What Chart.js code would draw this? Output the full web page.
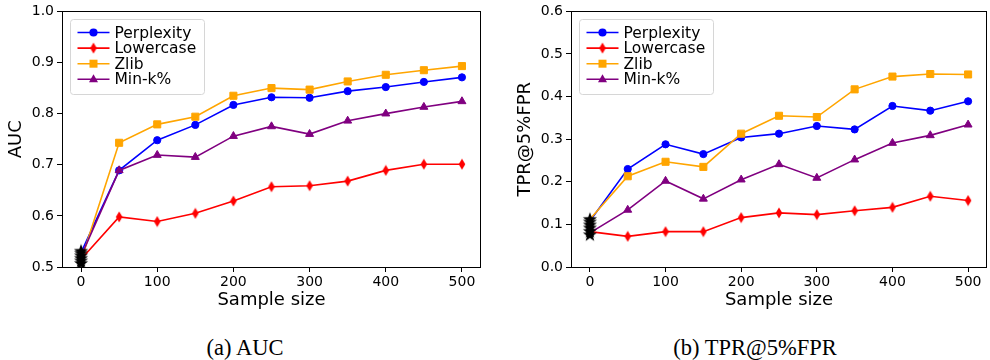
<!DOCTYPE html>
<html>
<head>
<meta charset="utf-8">
<script src="https://cdn.jsdelivr.net/npm/chart.js@4.4.1/dist/chart.umd.min.js"></script>
<style>
  html, body { margin: 0; padding: 0; background: #fff; overflow: hidden; }
  body { width: 990px; height: 360px; position: relative; }
  canvas { position: absolute; top: 0; }
  .cap { position: absolute; top: 335px; font-family: "Liberation Serif", "DejaVu Serif", serif;
         font-size: 22.5px; color: #000; text-align: center; white-space: nowrap; }
</style>
</head>
<body>
<canvas id="auc" width="495" height="320" style="left:0"></canvas>
<canvas id="tpr" width="500" height="320" style="left:495px"></canvas>
<div class="cap" style="left:0;width:490px">(a) AUC</div>
<div class="cap" style="left:510px;width:490px">(b) TPR@5%FPR</div>
<script>
  var sampleSizes = [0, 50, 100, 150, 200, 250, 300, 350, 400, 450, 500];
  var xTicks = [0, 100, 200, 300, 400, 500];
  var seriesNames = ["Perplexity", "Lowercase", "Zlib", "Min-k%"];

  // AUC panel
  var aucPerplexity = [0.528, 0.689, 0.748, 0.778, 0.817, 0.832, 0.831, 0.844, 0.852, 0.862, 0.871];
  var aucLowercase  = [0.515, 0.598, 0.589, 0.605, 0.629, 0.657, 0.659, 0.668, 0.689, 0.701, 0.701];
  var aucZlib       = [0.512, 0.743, 0.779, 0.794, 0.835, 0.850, 0.847, 0.863, 0.876, 0.885, 0.893];
  var aucMinK       = [0.521, 0.689, 0.719, 0.715, 0.756, 0.775, 0.760, 0.786, 0.800, 0.813, 0.824];
  var aucStart      = [0.508, 0.513, 0.518, 0.523, 0.528, 0.532];  // black stars at size 0
  var aucTicks = [0.5, 0.6, 0.7, 0.8, 0.9, 1.0];

  // TPR@5%FPR panel
  var tprPerplexity = [0.108, 0.230, 0.288, 0.265, 0.304, 0.313, 0.331, 0.323, 0.378, 0.367, 0.389];
  var tprLowercase  = [0.083, 0.072, 0.083, 0.083, 0.116, 0.127, 0.123, 0.132, 0.140, 0.166, 0.156];
  var tprZlib       = [0.112, 0.213, 0.247, 0.235, 0.313, 0.355, 0.352, 0.417, 0.447, 0.453, 0.452];
  var tprMinK       = [0.080, 0.134, 0.202, 0.160, 0.205, 0.241, 0.209, 0.252, 0.291, 0.309, 0.334];
  var tprStart      = [0.077, 0.085, 0.093, 0.100, 0.107, 0.113];
  var tprTicks = [0.0, 0.1, 0.2, 0.3, 0.4, 0.5, 0.6];

  var colors = ['#0000ff', '#ff0000', '#ffa500', '#800080'];
  var FONT = 'DejaVu Sans';
  Chart.defaults.color = '#000';
  Chart.defaults.font.family = FONT;

  // matplotlib-ish marker images
  function makeStar() {
    var c = document.createElement('canvas');
    c.width = 16; c.height = 16;
    var g = c.getContext('2d');
    g.fillStyle = '#000';
    g.beginPath();
    for (var i = 0; i < 10; i++) {
      var r = i % 2 ? 3.0 : 7.4;
      var a = -Math.PI / 2 + i * Math.PI / 5;
      var px = 8 + r * Math.cos(a), py = 8.7 + r * Math.sin(a);
      if (i === 0) g.moveTo(px, py); else g.lineTo(px, py);
    }
    g.closePath();
    g.fill();
    return c;
  }
  function makeThinDiamond(color) {
    var c = document.createElement('canvas');
    c.width = 8; c.height = 12;
    var g = c.getContext('2d');
    g.fillStyle = color;
    g.beginPath();
    g.moveTo(4, 0.5); g.lineTo(7.3, 6); g.lineTo(4, 11.5); g.lineTo(0.7, 6);
    g.closePath();
    g.fill();
    return c;
  }
  var starImg = makeStar();
  var diamondImg = makeThinDiamond(colors[1]);
  var markers = [
    {style: 'circle', radius: 3.6},
    {style: diamondImg, radius: 5},
    {style: 'rect', radius: 5},
    {style: 'triangle', radius: 4.6}
  ];

  function xy(vals) {
    return vals.map(function (v, i) { return {x: sampleSizes[i], y: v}; });
  }

  function buildDatasets(seriesList, startVals) {
    var ds = seriesList.map(function (vals, k) {
      return {
        label: seriesNames[k],
        data: xy(vals),
        borderColor: colors[k],
        backgroundColor: colors[k],
        borderWidth: 1.6,
        pointStyle: markers[k].style,
        pointRadius: function (ctx) { return ctx.dataIndex === 0 ? 0 : markers[k].radius; },
        pointBorderWidth: 1,
        pointBorderColor: colors[k],
        pointBackgroundColor: colors[k],
        order: 4 - k,
        tension: 0
      };
    });
    // black stars at sample size 0
    ds.push({
      label: 'start',
      data: startVals.map(function (v) { return {x: sampleSizes[0], y: v}; }),
      showLine: false,
      pointStyle: starImg,
      pointRadius: 7,
      order: 0
    });
    return ds;
  }

  var frameAndLegend = {
    id: 'frameAndLegend',
    afterDatasetsDraw: function (chart) {
      var ctx = chart.ctx, a = chart.chartArea;
      ctx.save();
      ctx.strokeStyle = '#000';
      ctx.lineWidth = 1;
      ctx.strokeRect(Math.round(a.left) + 0.5, Math.round(a.top) + 0.5,
        Math.round(a.right - a.left) - 1, Math.round(a.bottom - a.top));

      // legend box
      var bx = Math.round(a.left) + 8.5, by = Math.round(a.top) + 8.5, bw = 134, bh = 75, r = 3;
      ctx.beginPath();
      ctx.moveTo(bx + r, by);
      ctx.arcTo(bx + bw, by, bx + bw, by + bh, r);
      ctx.arcTo(bx + bw, by + bh, bx, by + bh, r);
      ctx.arcTo(bx, by + bh, bx, by, r);
      ctx.arcTo(bx, by, bx + bw, by, r);
      ctx.closePath();
      ctx.fillStyle = 'rgba(255,255,255,0.8)';
      ctx.fill();
      ctx.strokeStyle = '#d6d6d6';
      ctx.stroke();

      ctx.font = '15.5px "' + FONT + '"';
      ctx.textBaseline = 'middle';
      ctx.textAlign = 'left';
      for (var k = 0; k < 4; k++) {
        var y = by + 13 + k * 15.6;
        var x0 = bx + 7, x1 = bx + 39, mx = (x0 + x1) / 2;
        ctx.strokeStyle = colors[k];
        ctx.lineWidth = 1.6;
        ctx.beginPath(); ctx.moveTo(x0, y); ctx.lineTo(x1, y); ctx.stroke();
        ctx.fillStyle = colors[k];
        ctx.beginPath();
        if (k === 0) {
          ctx.arc(mx, y, 4.1, 0, Math.PI * 2); ctx.fill();
        } else if (k === 1) {
          ctx.drawImage(diamondImg, mx - 4, y - 6);
        } else if (k === 2) {
          ctx.fillRect(mx - 4, y - 4, 8, 8);
        } else {
          ctx.moveTo(mx, y - 5); ctx.lineTo(mx + 4.5, y + 3); ctx.lineTo(mx - 4.5, y + 3);
          ctx.closePath(); ctx.fill();
        }
        ctx.fillStyle = '#000';
        ctx.fillText(seriesNames[k], bx + 44, y + 1);
      }
      ctx.restore();
    }
  };

  function makeChart(id, seriesList, startVals, yTicks, yTitle, yWidth, yTitlePad, rightPad) {
    return new Chart(document.getElementById(id), {
      type: 'line',
      data: {datasets: buildDatasets(seriesList, startVals)},
      plugins: [frameAndLegend],
      options: {
        responsive: false,
        animation: false,
        devicePixelRatio: 1,
        layout: {padding: {left: 0, top: 11, right: rightPad, bottom: 0}},
        plugins: {legend: {display: false}, tooltip: {enabled: false}},
        scales: {
          x: {
            type: 'linear',
            min: -25, max: 525,
            afterBuildTicks: function (s) { s.ticks = xTicks.map(function (v) { return {value: v}; }); },
            afterFit: function (s) { s.height = 53; },
            grid: {drawOnChartArea: false, drawTicks: true, tickLength: 5, color: '#000'},
            border: {display: false},
            ticks: {font: {size: 14}, padding: 2, maxRotation: 0, color: '#000'},
            title: {display: true, text: 'Sample size', font: {size: 18}, padding: {top: 0, bottom: 9}, color: '#000'}
          },
          y: {
            type: 'linear',
            min: yTicks[0], max: yTicks[yTicks.length - 1],
            afterBuildTicks: function (s) { s.ticks = yTicks.map(function (v) { return {value: v}; }); },
            afterFit: function (s) { s.width = yWidth; },
            grid: {drawOnChartArea: false, drawTicks: true, tickLength: 5, color: '#000'},
            border: {display: false},
            ticks: {font: {size: 14}, padding: 3, color: '#000',
              callback: function (v) { return Number(v).toFixed(1); }},
            title: {display: true, text: yTitle, font: {size: 18}, padding: {top: yTitlePad, bottom: 0}, color: '#000'}
          }
        }
      }
    });
  }

  makeChart('auc', [aucPerplexity, aucLowercase, aucZlib, aucMinK], aucStart, aucTicks, 'AUC', 62, 6, 14);
  makeChart('tpr', [tprPerplexity, tprLowercase, tprZlib, tprMinK], tprStart, tprTicks, 'TPR@5%FPR', 76, 20, 4);
</script>
</body>
</html>
